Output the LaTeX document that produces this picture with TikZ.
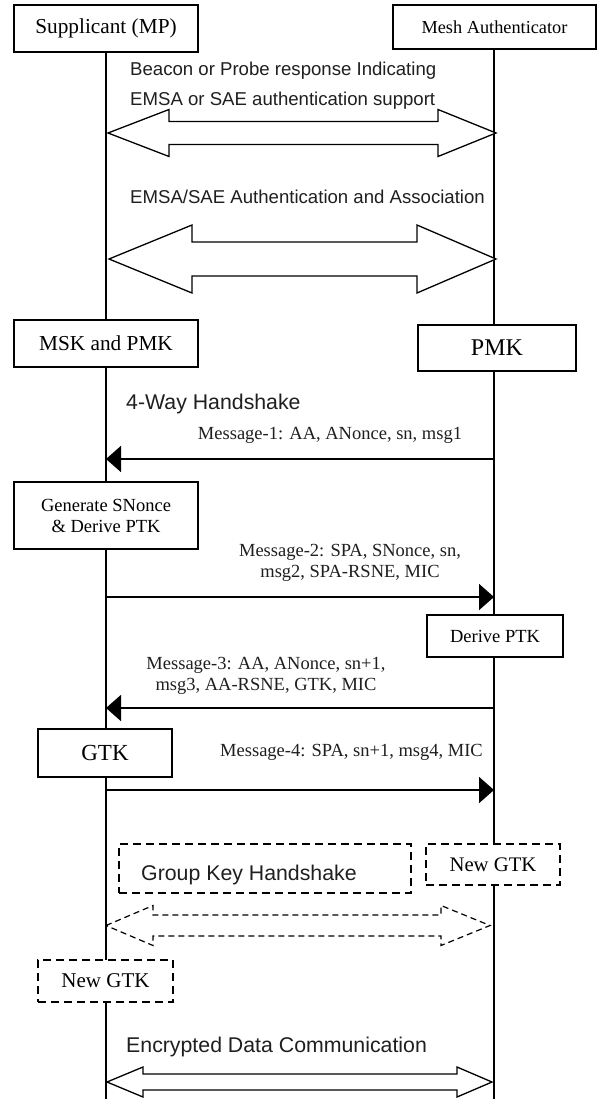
\documentclass[tikz,border=0pt]{standalone}
\usepackage{fontspec}
\setmainfont{Liberation Serif}
\setsansfont{Liberation Sans}
\usetikzlibrary{arrows.meta}
\newcommand\dblarr[8][]{%
  \draw[bigarrow,#1] (#2,#4) -- (#7,#4-#5) -- (#7,#4-#6) -- (#8,#4-#6) -- (#8,#4-#5) -- (#3,#4)
    -- (#8,#4+#5) -- (#8,#4+#6) -- (#7,#4+#6) -- (#7,#4+#5) -- cycle;}
\begin{document}
\begin{tikzpicture}[x=1pt,y=-1pt,
  box/.style={draw=black, line width=1.8pt, fill=white, inner sep=0pt, align=center},
  dbox/.style={box, dash pattern=on 8pt off 5pt},
  life/.style={line width=1.5pt},
  msg/.style={line width=1.8pt, -{Triangle[length=15pt,width=26pt]}},
  bigarrow/.style={draw=black, line width=1.3pt, fill=white, line join=miter},
  dashedarrow/.style={line width=1.2pt, dash pattern=on 6pt off 4pt},
  ser/.style={font=\fontsize{18.5}{21}\selectfont},
  serL/.style={font=\fontsize{21.3}{24}\selectfont},
  sans/.style={font=\sffamily\fontsize{18.6}{21}\selectfont},
  sansL/.style={font=\sffamily\fontsize{21.3}{24}\selectfont},
  lbl/.style={inner sep=0pt, text=black!88}
]
\useasboundingbox (0,0) rectangle (598,1099);
\fill[white] (0,0) rectangle (598,1099);

% lifeline ends
\coordinate (Lend) at (106,1099);
\coordinate (Rend) at (494,1099);

% boxes (header)
\node[box, serL, minimum width=184pt, minimum height=47pt] (sup) at (106,28.5) {Supplicant (MP)};
\node[box, font=\fontsize{18.3}{21}\selectfont, minimum width=203pt, minimum height=44pt] (mesh) at (494.5,27) {Mesh Authenticator};

% lifelines
\draw[life] (sup.south) -- (Lend);
\draw[life] (mesh.south -| Rend) -- (Rend);

% discovery
\node[lbl, sans, anchor=west] (beacon) at (130,71) {Beacon or Probe response Indicating};
\node[lbl, sans, anchor=west] (emsa) at (130,101) {EMSA or SAE authentication support};
\dblarr{108}{496}{133}{23.5}{11.5}{169}{438}

\node[lbl, sans, anchor=west] (auth) at (130,197) {EMSA/SAE Authentication and Association};
\dblarr{109}{496}{259}{34}{17}{192}{417}

% keys
\node[box, serL, minimum width=184pt, minimum height=47pt] (msk) at (106,343.5) {MSK and PMK};
\node[box, font=\fontsize{24}{27}\selectfont, minimum width=158pt, minimum height=46pt] (pmk) at (497,348) {PMK};

\node[lbl, sansL, anchor=west] (fourway) at (126,404) {4-Way Handshake};

% message 1
\node[lbl, ser] (m1t) at (330,435) {Message-1: AA, ANonce, sn, msg1};
\coordinate (m1r) at (494,459);
\coordinate (m1l) at (106,459);
\draw[msg] (m1r) -- (m1l);

\node[box, ser, font=\fontsize{18.5}{21}\selectfont, minimum width=184pt, minimum height=67pt] (gen) at (106,515.5) {Generate SNonce\\\& Derive PTK};

% message 2
\node[lbl, ser, align=center] (m2t) at (350,562.5) {Message-2: SPA, SNonce, sn,\\msg2, SPA-RSNE, MIC};
\coordinate (m2l) at (106,597);
\coordinate (m2r) at (494,597);
\draw[msg] (m2l) -- (m2r);

\node[box, ser, minimum width=136pt, minimum height=42pt] (derive) at (495,636) {Derive PTK};

% message 3
\node[lbl, ser, align=center] (m3t) at (266,675.5) {Message-3: AA, ANonce, sn+1,\\msg3, AA-RSNE, GTK, MIC};
\coordinate (m3r) at (494,708);
\coordinate (m3l) at (106,708);
\draw[msg] (m3r) -- (m3l);

\node[box, font=\fontsize{23}{26}\selectfont, minimum width=134pt, minimum height=48pt] (gtk) at (105,753) {GTK};

% message 4
\node[lbl, ser, anchor=west] (m4t) at (220,752) {Message-4: SPA, sn+1, msg4, MIC};
\coordinate (m4l) at (106,790);
\coordinate (m4r) at (494,790);
\draw[msg] (m4l) -- (m4r);

% group key handshake
\node[dbox, minimum width=292pt, minimum height=49pt] (gkh) at (265,868.5) {};
\node[lbl, sansL, anchor=west] (gkhtxt) at (141,875) {Group Key Handshake};
\node[dbox, font=\fontsize{20.7}{24}\selectfont, minimum width=134pt, minimum height=41pt] (ngr) at (493,864.5) {New GTK};
\dblarr[dashedarrow]{106}{490}{925.5}{20}{10.5}{153}{441}

\node[dbox, font=\fontsize{21}{24}\selectfont, minimum width=135pt, minimum height=42pt] (ngl) at (105.5,981) {New GTK};

% encrypted data
\node[lbl, sansL, anchor=west] (enc) at (126,1047) {Encrypted Data Communication};
\dblarr{107}{492}{1082}{15}{8}{143}{457}
\end{tikzpicture}
\end{document}
